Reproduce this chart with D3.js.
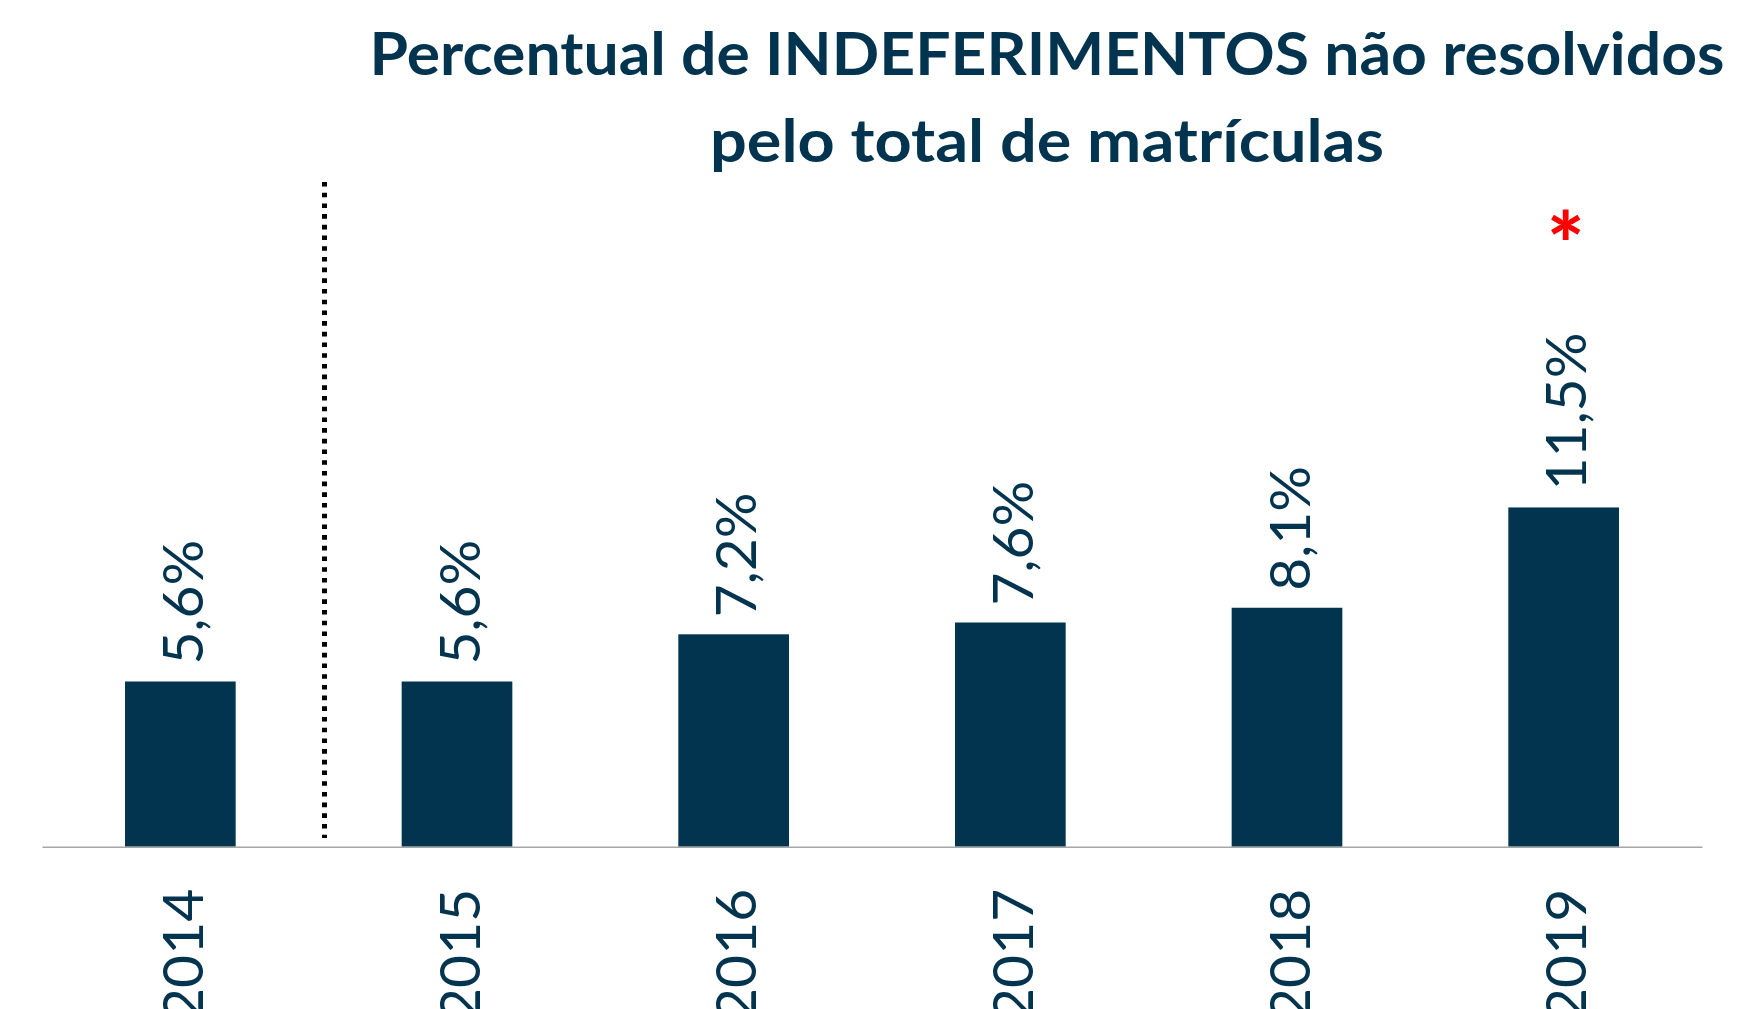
<!DOCTYPE html>
<html>
<head>
<meta charset="utf-8">
<script src="https://cdn.jsdelivr.net/npm/d3@7.9.0/dist/d3.min.js"></script>
<style>
  html, body { margin: 0; padding: 0; background: #fff; }
  svg { display: block; }
</style>
</head>
<body>
<div id="chart"></div>
<script>
const years = ['2014', '2015', '2016', '2017', '2018', '2019'];
const values = [5.6, 5.6, 7.2, 7.6, 8.1, 11.5];
const titleLines = ['Percentual de INDEFERIMENTOS não resolvidos', 'pelo total de matrículas'];
const flagged = ['2019']; // asterisk marker

const width = 1738;
const height = 1009;
const navy = '#02344f';
const baseY = 846.7;

const svg = d3.select('#chart')
  .append('svg')
  .attr('width', width)
  .attr('height', height);

const xScale = d3.scaleBand()
  .domain(years)
  .range([42, 1702])
  .paddingInner(0.6)
  .paddingOuter(0.3);

const yScale = d3.scaleLinear()
  .domain([0, 12])
  .range([baseY, baseY - 354]);

// title
const title = svg.append('g').attr('class', 'title');
const titleWidths = [1355, 674];
title.selectAll('text')
  .data(titleLines)
  .join('text')
  .attr('x', 1047)
  .attr('y', (d, i) => 75 + i * 87)
  .attr('text-anchor', 'middle')
  .attr('textLength', (d, i) => titleWidths[i])
  .attr('lengthAdjust', 'spacingAndGlyphs')
  .style('font-family', 'Lato, "Open Sans", sans-serif')
  .style('font-weight', 700)
  .style('font-size', '59px')
  .style('fill', navy)
  .text(d => d);

// bars
svg.append('g')
  .selectAll('rect')
  .data(values)
  .join('rect')
  .attr('x', (d, i) => xScale(years[i]))
  .attr('y', d => yScale(d))
  .attr('width', xScale.bandwidth())
  .attr('height', d => yScale(0) - yScale(d))
  .attr('fill', navy);

// baseline
const xAxis = d3.axisBottom(xScale).tickSize(0).tickFormat('');
svg.append('g')
  .attr('transform', `translate(0, ${baseY})`)
  .call(xAxis)
  .call(g => g.select('.domain').attr('stroke', '#a6a6a6').attr('stroke-width', 1.5));

// dotted separator between 2014 and 2015
const sepX = Math.round((xScale('2014') + xScale.bandwidth() + xScale('2015')) / 2 + 5) + 0.5;
svg.append('line')
  .attr('x1', sepX).attr('x2', sepX)
  .attr('y1', 182).attr('y2', 838)
  .attr('stroke', '#000')
  .attr('stroke-width', 5)
  .attr('stroke-dasharray', '4.6 6.1');

const labelFont = 'Lato, "Open Sans", sans-serif';

// value labels (rotated)
svg.append('g')
  .selectAll('text')
  .data(values)
  .join('text')
  .attr('transform', (d, i) => {
    const cx = xScale(years[i]) + xScale.bandwidth() / 2 + 2;
    return `translate(${cx}, ${yScale(d) - 17}) rotate(-90)`;
  })
  .attr('dy', '0.36em')
  .attr('text-anchor', 'start')
  .style('font-family', labelFont)
  .style('font-size', '57px')
  .style('fill', navy)
  .text(d => d3.format('.1f')(d).replace('.', ',') + '%');

// year labels (rotated)
svg.append('g')
  .selectAll('text')
  .data(years)
  .join('text')
  .attr('transform', d => {
    const cx = xScale(d) + xScale.bandwidth() / 2 + 2;
    return `translate(${cx}, ${baseY + 42}) rotate(-90)`;
  })
  .attr('dy', '0.36em')
  .attr('text-anchor', 'end')
  .style('font-family', labelFont)
  .style('font-size', '57px')
  .style('fill', navy)
  .text(d => d);

// red asterisk
svg.append('g')
  .selectAll('text')
  .data(flagged)
  .join('text')
  .attr('x', d => xScale(d) + xScale.bandwidth() / 2 + 2)
  .attr('y', 276)
  .attr('text-anchor', 'middle')
  .style('font-family', labelFont)
  .style('font-weight', 900)
  .style('font-size', '88px')
  .style('fill', '#ff0000')
  .text('*');
</script>
</body>
</html>
